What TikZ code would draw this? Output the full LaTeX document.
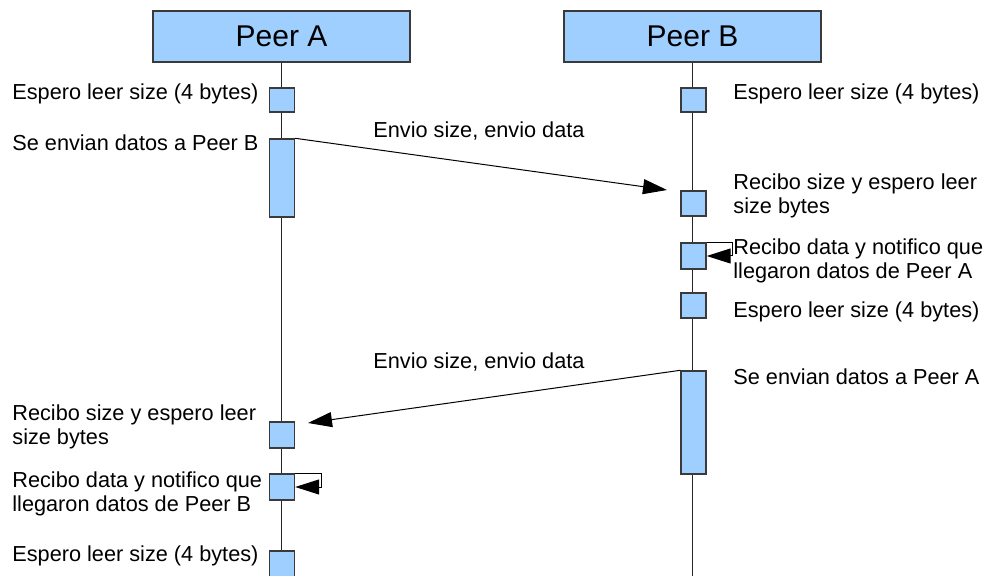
\documentclass[tikz,border=0pt]{standalone}
\usepackage{fontspec}
\setmainfont{Liberation Sans}
\usetikzlibrary{arrows.meta}
\definecolor{boxfill}{HTML}{9FCFFF}
\definecolor{boxline}{HTML}{3A3A3A}
\begin{document}
\begin{tikzpicture}[x=0.5pt,y=-0.5pt,
  header/.style={draw=boxline,fill=boxfill,line width=0.7pt,minimum width=128.5pt,minimum height=25.5pt,inner sep=0pt,font=\fontsize{15}{18}\selectfont},
  act/.style={draw=boxline,fill=boxfill,line width=0.7pt,minimum width=12.5pt,inner sep=0pt},
  life/.style={draw=black!85,line width=0.6pt},
  msg/.style={draw=black,line width=0.5pt,-{Triangle[length=12pt,width=7.5pt]}},
  lbl/.style={anchor=west,inner sep=0pt,align=left,font=\fontsize{10.85}{12}\selectfont}]
\useasboundingbox (0,0) rectangle (989,576);
% headers
\node[header] (pa) at (281.5,36.5) {Peer A};
\node[header] (pb) at (692.5,36.5) {Peer B};
\coordinate (ea) at (282.5,580);
\coordinate (eb) at (693.5,580);
\draw[life] (pa.south) -- (pa.south |- ea);
\draw[life] (pb.south) -- (pb.south |- eb);
% activation boxes A
\node[act,minimum height=12pt] (a1) at (282,100) {};
\node[act,minimum height=39pt] (a2) at (282,178) {};
\node[act,minimum height=13pt] (a3) at (282,435) {};
\node[act,minimum height=13pt] (a4) at (282,487) {};
\node[act,minimum height=20pt] (a5) at (282,571) {};
% activation boxes B
\node[act,minimum height=12pt] (b1) at (693.5,100) {};
\node[act,minimum height=12.5pt] (b2) at (693.5,203.5) {};
\node[act,minimum height=13pt] (b3) at (693.5,256) {};
\node[act,minimum height=12.5pt] (b4) at (693.5,305.5) {};
\node[act,minimum height=51.5pt] (b5) at (693.5,422.5) {};
% messages
\coordinate (t1) at (667,190);
\coordinate (t2) at (308,423);
\draw[msg] (a2.north east) -- (t1);
\draw[msg] (b5.north west) -- (t2);
\draw[msg] (b3.north east) -- ++(26,0) |- (b3.east);
\draw[msg] (a4.north east) -- ++(26,0) |- (a4.east);
% message labels
\node[lbl] (m1) at (373,131) {Envio size, envio data};
\node[lbl] (m2) at (373,362) {Envio size, envio data};
% left labels
\node[lbl] (l1) at (12,94) {Espero leer size (4 bytes)};
\node[lbl] (l2) at (12,143) {Se envian datos a Peer B};
\node[lbl] (l3) at (12,427) {Recibo size y espero leer\\size bytes};
\node[lbl] (l4) at (12,494) {Recibo data y notifico que\\llegaron datos de Peer B};
\node[lbl] (l5) at (12,556) {Espero leer size (4 bytes)};
% right labels
\node[lbl] (r1) at (733,94) {Espero leer size (4 bytes)};
\node[lbl] (r2) at (733,196) {Recibo size y espero leer\\size bytes};
\node[lbl] (r3) at (733,261) {Recibo data y notifico que\\llegaron datos de Peer A};
\node[lbl] (r4) at (733,312) {Espero leer size (4 bytes)};
\node[lbl] (r5) at (733,377) {Se envian datos a Peer A};
\end{tikzpicture}
\end{document}
